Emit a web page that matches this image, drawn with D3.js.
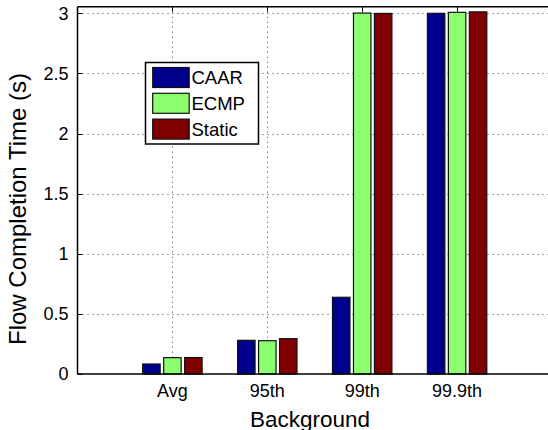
<!DOCTYPE html>
<html>
<head>
<meta charset="utf-8">
<script src="https://cdn.jsdelivr.net/npm/d3@7"></script>
<style>
  html, body { margin: 0; padding: 0; background: #fff; }
  svg { display: block; font-family: "Liberation Sans", Arial, Helvetica, sans-serif; }
</style>
</head>
<body>
<svg id="chart" width="548" height="430"></svg>
<script>
// Flow completion time per percentile of background traffic
const categories = ["Avg", "95th", "99th", "99.9th"];
const seriesNames = ["CAAR", "ECMP", "Static"];
const caar   = [0.083, 0.280, 0.638, 3.000];
const ecmp   = [0.136, 0.277, 3.002, 3.008];
const stat   = [0.137, 0.294, 2.999, 3.012];
const yTicks = [0, 0.5, 1, 1.5, 2, 2.5, 3];
const colors = ["#00008f", "#8cff6e", "#800000"];

const seriesValues = [caar, ecmp, stat];

const svg = d3.select("#chart");
const plotLeft = 77.5, plotTop = 6.7, plotBottom = 374, plotRight = 552;

const x = d3.scaleLinear().domain([0, 5]).range([plotLeft, plotRight]);
const y = d3.scaleLinear().domain([0, 3.055]).range([plotBottom, plotTop]);
// offset of each series inside a group, in category units
const offset = d3.scalePoint().domain(seriesNames).range([-0.221, 0.221]);
const barW = x(0.184) - x(0);

// dotted grid
const grid = svg.append("g")
  .attr("stroke", "#444").attr("stroke-width", 1)
  .attr("stroke-dasharray", "1,4");
grid.selectAll("line.h").data(yTicks.filter(d => d > 0)).join("line")
  .attr("x1", plotLeft).attr("x2", plotRight)
  .attr("y1", d => Math.round(y(d)) + 0.5).attr("y2", d => Math.round(y(d)) + 0.5);
grid.selectAll("line.v").data(categories).join("line")
  .attr("x1", (d, i) => Math.round(x(i + 1)) + 0.5).attr("x2", (d, i) => Math.round(x(i + 1)) + 0.5)
  .attr("y1", plotTop).attr("y2", plotBottom);

// bars
seriesNames.forEach((s, si) => {
  svg.append("g").selectAll("rect").data(seriesValues[si]).join("rect")
    .attr("x", (d, i) => x(i + 1 + offset(s)) - barW / 2)
    .attr("width", barW)
    .attr("y", d => y(d))
    .attr("height", d => y(0) - y(d))
    .attr("fill", colors[si])
    .attr("stroke", "#111").attr("stroke-width", 1.2);
});

// axes: box lines with inward ticks
const axisG = svg.append("g").attr("stroke", "#000").attr("stroke-width", 1.5).attr("fill", "none");
axisG.append("line").attr("x1", plotLeft).attr("x2", plotLeft).attr("y1", plotTop).attr("y2", plotBottom);
axisG.append("line").attr("x1", plotLeft).attr("x2", plotRight).attr("y1", plotBottom).attr("y2", plotBottom);
axisG.append("line").attr("x1", plotLeft).attr("x2", plotRight).attr("y1", plotTop).attr("y2", plotTop);
const tickG = svg.append("g").attr("stroke", "#000").attr("stroke-width", 1);
tickG.selectAll("line.yt").data(yTicks).join("line")
  .attr("x1", plotLeft).attr("x2", plotLeft + 5)
  .attr("y1", d => Math.round(y(d)) + 0.5).attr("y2", d => Math.round(y(d)) + 0.5);
tickG.selectAll("line.xt").data(categories).join("line")
  .attr("x1", (d, i) => Math.round(x(i + 1)) + 0.5).attr("x2", (d, i) => Math.round(x(i + 1)) + 0.5)
  .attr("y1", plotTop).attr("y2", plotTop + 5);

// tick labels
svg.append("g").selectAll("text").data(yTicks).join("text")
  .attr("x", plotLeft - 9).attr("y", d => y(d))
  .attr("dy", "0.36em")
  .attr("text-anchor", "end")
  .attr("font-size", 18)
  .text(d => d3.format("~g")(d));
svg.append("g").selectAll("text").data(categories).join("text")
  .attr("x", (d, i) => x(i + 1)).attr("y", 397)
  .attr("text-anchor", "middle")
  .attr("font-size", 18)
  .text(d => d);

// axis titles
svg.append("text")
  .attr("x", 310).attr("y", 426.5)
  .attr("text-anchor", "middle")
  .attr("font-size", 22.5)
  .text("Background");
svg.append("text")
  .attr("transform", "translate(26,209) rotate(-90)")
  .attr("text-anchor", "middle")
  .attr("font-size", 24)
  .text("Flow Completion Time (s)");

// legend
const lg = svg.append("g");
lg.append("rect")
  .attr("x", 145.5).attr("y", 62.5).attr("width", 113).attr("height", 81.5)
  .attr("fill", "#fff").attr("stroke", "#000").attr("stroke-width", 1.5);
seriesNames.forEach((s, si) => {
  const yy = 67.5 + si * 25.8;
  lg.append("rect")
    .attr("x", 152.7).attr("y", yy).attr("width", 36.5).attr("height", 20)
    .attr("fill", colors[si]).attr("stroke", "#111").attr("stroke-width", 1.2);
  lg.append("text")
    .attr("x", 191.5).attr("y", yy + 16.5)
    .attr("font-size", 18.5)
    .text(s);
});
</script>
</body>
</html>
